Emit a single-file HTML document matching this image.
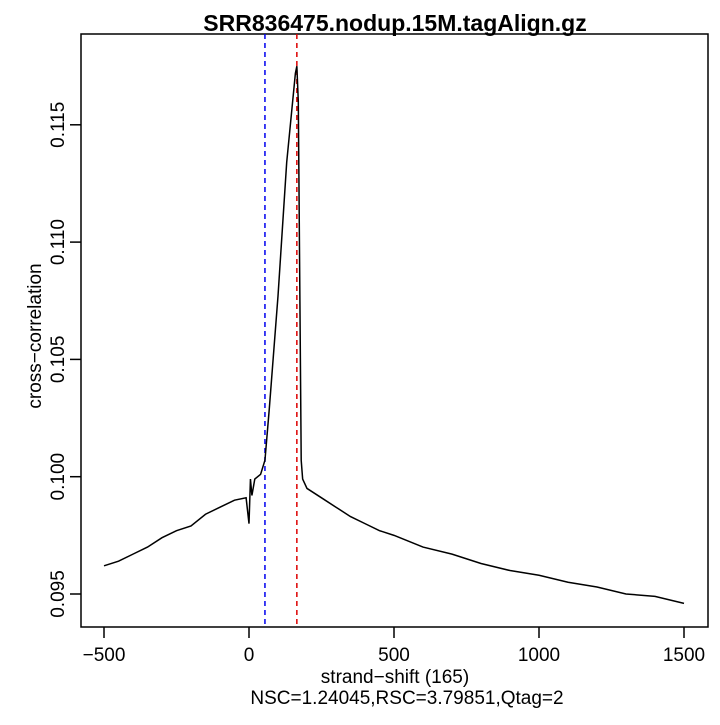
<!DOCTYPE html>
<html><head><meta charset="utf-8"><style>
body{margin:0;background:#fff}
svg text{font-family:"Liberation Sans",sans-serif;fill:#000}
</style></head><body>
<svg id="chart" width="720" height="720" xmlns="http://www.w3.org/2000/svg">
<text x="395" y="31" font-size="23" font-weight="bold" text-anchor="middle">SRR836475.nodup.15M.tagAlign.gz</text>
<rect x="81" y="34" width="627" height="593" fill="none" stroke="#000" stroke-width="1.5"/>
<g id="xticks"></g><g id="yticks"></g><g id="lines"></g>
<text x="395" y="683" font-size="19" text-anchor="middle">strand−shift (165)</text>
<text x="407" y="704" font-size="19" text-anchor="middle">NSC=1.24045,RSC=3.79851,Qtag=2</text>
<text transform="translate(41,336) rotate(-90)" font-size="19" text-anchor="middle">cross−correlation</text>
</svg>
<script>
const xTicks=[-500,0,500,1000,1500];
const yTicks=[0.095,0.100,0.105,0.110,0.115];
const yTickLabels=["0.095","0.100","0.105","0.110","0.115"];
const shifts=[-500,-450,-400,-350,-300,-250,-200,-150,-100,-50,-10,0,5,10,20,40,55,70,100,130,160,165,170,180,185,200,250,300,350,400,450,500,600,700,800,900,1000,1100,1200,1300,1400,1500];
const corr=[0.0962,0.0964,0.0967,0.0970,0.0974,0.0977,0.0979,0.0984,0.0987,0.0990,0.0991,0.0980,0.0999,0.0992,0.0999,0.1001,0.1007,0.1029,0.1077,0.1134,0.1172,0.1175,0.1160,0.1007,0.0999,0.0995,0.0991,0.0987,0.0983,0.0980,0.0977,0.0975,0.0970,0.0967,0.0963,0.0960,0.0958,0.0955,0.0953,0.0950,0.0949,0.0946];
const peakLine=165, minLine=55;
const sx=v=>249+(v)*0.29;
const sy=v=>594-(v-0.095)/0.005*117.3;
const NS="http://www.w3.org/2000/svg";
function mk(t,a,p){const e=document.createElementNS(NS,t);for(const k in a)e.setAttribute(k,a[k]);p.appendChild(e);return e;}
const xg=document.getElementById('xticks'),yg=document.getElementById('yticks'),lg=document.getElementById('lines');
xTicks.forEach(v=>{
 const l=mk('line',{x1:sx(v),x2:sx(v),y1:627,y2:638,stroke:'#000','stroke-width':1.5},xg);
 
 
 const t=mk('text',{x:sx(v),y:661,'font-size':19,'text-anchor':'middle'},xg);t.textContent=v<0?'−'+Math.abs(v):v;
 
 
});
yTicks.forEach((v,i)=>{
 const l=mk('line',{x1:70,x2:81,y1:sy(v),y2:sy(v),stroke:'#000','stroke-width':1.5},yg);
 
 
 const t=mk('text',{transform:`translate(64,${sy(v)}) rotate(-90)`,'font-size':19,'text-anchor':'middle'},yg);t.textContent=yTickLabels[i];
 
 
});
const b=mk('line',{x1:sx(minLine),x2:sx(minLine),y1:34,y2:627,stroke:'#0000ee','stroke-width':1.5,'stroke-dasharray':'5,4'},lg);


const r=mk('line',{x1:sx(peakLine),x2:sx(peakLine),y1:34,y2:627,stroke:'#dd0000','stroke-width':1.5,'stroke-dasharray':'5,4'},lg);


const p=mk('polyline',{points:shifts.map((s,i)=>sx(s)+','+sy(corr[i])).join(' '),fill:'none',stroke:'#000','stroke-width':1.5},lg);


</script>
</body></html>
